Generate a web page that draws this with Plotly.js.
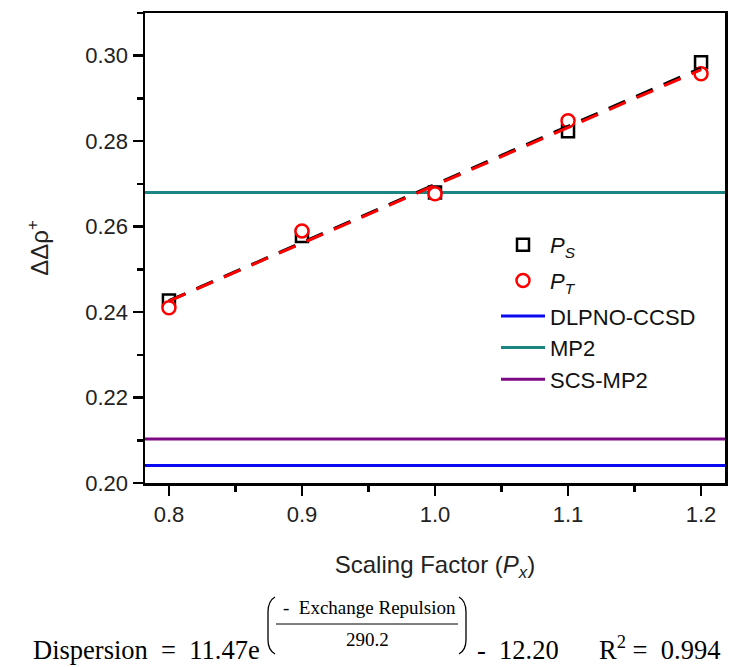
<!DOCTYPE html>
<html>
<head>
<meta charset="utf-8">
<script src="https://cdn.plot.ly/plotly-3.0.1.min.js"></script>
<style>
  html, body { margin: 0; padding: 0; background: #ffffff; }
  #chart { width: 729px; height: 667px; }
</style>
</head>
<body>
<div id="chart"></div>
<script>
// Scaling factor P_x applied to the dispersion term
const scalingFactors = [0.8, 0.9, 1.0, 1.1, 1.2];
// ΔΔρ+ obtained with the P_S and P_T parameter sets
const psValues = [0.2427, 0.2578, 0.2680, 0.2823, 0.2985];
const ptValues = [0.2410, 0.2590, 0.2677, 0.2848, 0.2958];
// Reference ΔΔρ+ from wavefunction methods
const referenceMethods = ['DLPNO-CCSD', 'MP2', 'SCS-MP2'];
const referenceValues = [0.2041, 0.2680, 0.2103];
// Axis ticks
const xTickValues = [0.8, 0.9, 1.0, 1.1, 1.2];
const xTickLabels = ['0.8', '0.9', '1.0', '1.1', '1.2'];
const yTickValues = [0.20, 0.22, 0.24, 0.26, 0.28, 0.30];
const yTickLabels = ['0.20', '0.22', '0.24', '0.26', '0.28', '0.30'];

const X_RANGE = [0.782, 1.218];
const Y_RANGE = [0.200, 0.310];
const referenceColors = ['#0a0af0', '#1b8584', '#7d0a84'];

// Least-squares straight line through a series, evaluated at both ends
function linearFit(xs, ys) {
  const n = xs.length;
  const mx = xs.reduce((a, b) => a + b, 0) / n;
  const my = ys.reduce((a, b) => a + b, 0) / n;
  let sxy = 0, sxx = 0;
  for (let i = 0; i < n; i++) {
    sxy += (xs[i] - mx) * (ys[i] - my);
    sxx += (xs[i] - mx) * (xs[i] - mx);
  }
  const slope = sxy / sxx;
  const x0 = xs[0], x1 = xs[n - 1];
  return { x: [x0, x1], y: [my + slope * (x0 - mx), my + slope * (x1 - mx)] };
}

const fitS = linearFit(scalingFactors, psValues);
const fitT = linearFit(scalingFactors, ptValues);

const traces = [];

// Horizontal reference levels
referenceMethods.forEach((name, i) => {
  traces.push({
    type: 'scatter', mode: 'lines', name: name,
    x: X_RANGE, y: [referenceValues[i], referenceValues[i]],
    line: { color: referenceColors[i], width: 3 },
    legendgroup: 'ref', legendrank: 10 + i
  });
});

traces.push({
  type: 'scatter', mode: 'markers', name: '<i>P</i><sub><i>S</i></sub>',
  x: scalingFactors, y: psValues,
  marker: { symbol: 'square', size: 12, color: '#ffffff', line: { color: '#000000', width: 2.5 } },
  legendgroup: 'ps', legendrank: 1
});
traces.push({
  type: 'scatter', mode: 'markers', name: '<i>P</i><sub><i>T</i></sub>',
  x: scalingFactors, y: ptValues,
  marker: { symbol: 'circle', size: 13, color: '#ffffff', line: { color: '#ff0000', width: 2.5 } },
  legendgroup: 'pt', legendrank: 2
});

// Linear fits (black underneath, red on top)
traces.push({
  type: 'scatter', mode: 'lines', showlegend: false,
  x: fitS.x, y: fitS.y,
  line: { color: '#000000', width: 3.2, dash: '18px,12px' }
});
traces.push({
  type: 'scatter', mode: 'lines', showlegend: false,
  x: fitT.x, y: fitT.y,
  line: { color: '#ff0000', width: 3, dash: '18px,12px' }
});

// Pixel helpers for the equation placed under the plot
const PL = 145, PR = 725, PT = 13, PB = 483;
const px = v => (v - PL) / (PR - PL);
const py = v => (PB - v) / (PB - PT);

const serif = { family: 'Liberation Serif, Times New Roman, serif', color: '#000000' };

const annotations = [
  { text: 'Dispersion  =  11.47e', x: px(32), y: py(650), xanchor: 'left', yanchor: 'middle',
    font: Object.assign({ size: 26.5 }, serif) },
  { text: '-  Exchange Repulsion', x: px(369), y: py(607), xanchor: 'center', yanchor: 'middle',
    font: Object.assign({ size: 19 }, serif) },
  { text: '290.2', x: px(367), y: py(640), xanchor: 'center', yanchor: 'middle',
    font: Object.assign({ size: 19 }, serif) },
  { text: '-  12.20', x: px(476), y: py(650), xanchor: 'left', yanchor: 'middle',
    font: Object.assign({ size: 26.5 }, serif) },
  { text: 'R<sup>2</sup> =  0.994', x: px(598), y: py(648), xanchor: 'left', yanchor: 'middle',
    font: Object.assign({ size: 26.5 }, serif) }
].map(a => Object.assign({ xref: 'paper', yref: 'paper', showarrow: false, borderpad: 0 }, a));

const P = (x, y) => px(x) + ',' + py(y);
const shapes = [
  // fraction bar
  { type: 'line', xref: 'paper', yref: 'paper', x0: px(276), x1: px(458), y0: py(624), y1: py(624),
    line: { color: '#000000', width: 1 } },
  // tall parentheses around the exponent
  { type: 'path', xref: 'paper', yref: 'paper', line: { color: '#000000', width: 1.3 },
    path: 'M' + P(275, 597) + ' Q' + P(268, 601) + ' ' + P(268, 612) + ' L' + P(268, 640) +
          ' Q' + P(268, 650) + ' ' + P(275, 654) },
  { type: 'path', xref: 'paper', yref: 'paper', line: { color: '#000000', width: 1.3 },
    path: 'M' + P(459, 597) + ' Q' + P(466, 601) + ' ' + P(466, 612) + ' L' + P(466, 640) +
          ' Q' + P(466, 650) + ' ' + P(459, 654) }
];

const axisCommon = {
  showgrid: false, zeroline: false,
  showline: true, linecolor: '#000000', linewidth: 2.5, mirror: true,
  ticks: 'outside', ticklen: 10, tickwidth: 2.5, tickcolor: '#000000',
  tickfont: { family: 'Liberation Sans, Arial, sans-serif', size: 22, color: '#222222' }
};

const layout = {
  width: 729, height: 667,
  margin: { l: PL, r: 729 - PR, t: PT, b: 667 - PB, pad: 0 },
  paper_bgcolor: '#ffffff', plot_bgcolor: '#ffffff',
  font: { family: 'Liberation Sans, Arial, sans-serif', color: '#222222' },
  xaxis: Object.assign({}, axisCommon, {
    range: X_RANGE, tickvals: xTickValues, ticktext: xTickLabels,
    minor: { dtick: 0.05, ticklen: 6, tickwidth: 2.5, tickcolor: '#000000', ticks: 'outside' },
    title: { text: 'Scaling Factor (<i>P</i><sub><i>x</i></sub>)',
      font: { family: 'Liberation Sans, Arial, sans-serif', size: 24, color: '#222222' }, standoff: 31 }
  }),
  yaxis: Object.assign({}, axisCommon, {
    range: Y_RANGE, tickvals: yTickValues, ticktext: yTickLabels,
    minor: { dtick: 0.01, ticklen: 6, tickwidth: 2.5, tickcolor: '#000000', ticks: 'outside' },
    title: { text: 'ΔΔρ<sup>+</sup>',
      font: { family: 'Liberation Sans, Arial, sans-serif', size: 24, color: '#222222' }, standoff: 30 }
  }),
  legend: {
    x: px(496), y: py(224), xanchor: 'left', yanchor: 'top',
    bgcolor: 'rgba(0,0,0,0)', borderwidth: 0,
    font: { family: 'Liberation Sans, Arial, sans-serif', size: 22, color: '#111111' },
    traceorder: 'grouped', tracegroupgap: 4, itemwidth: 44, itemsizing: 'trace'
  },
  annotations: annotations,
  shapes: shapes
};

Plotly.newPlot('chart', traces, layout, { displayModeBar: false, staticPlot: true });
</script>
</body>
</html>
